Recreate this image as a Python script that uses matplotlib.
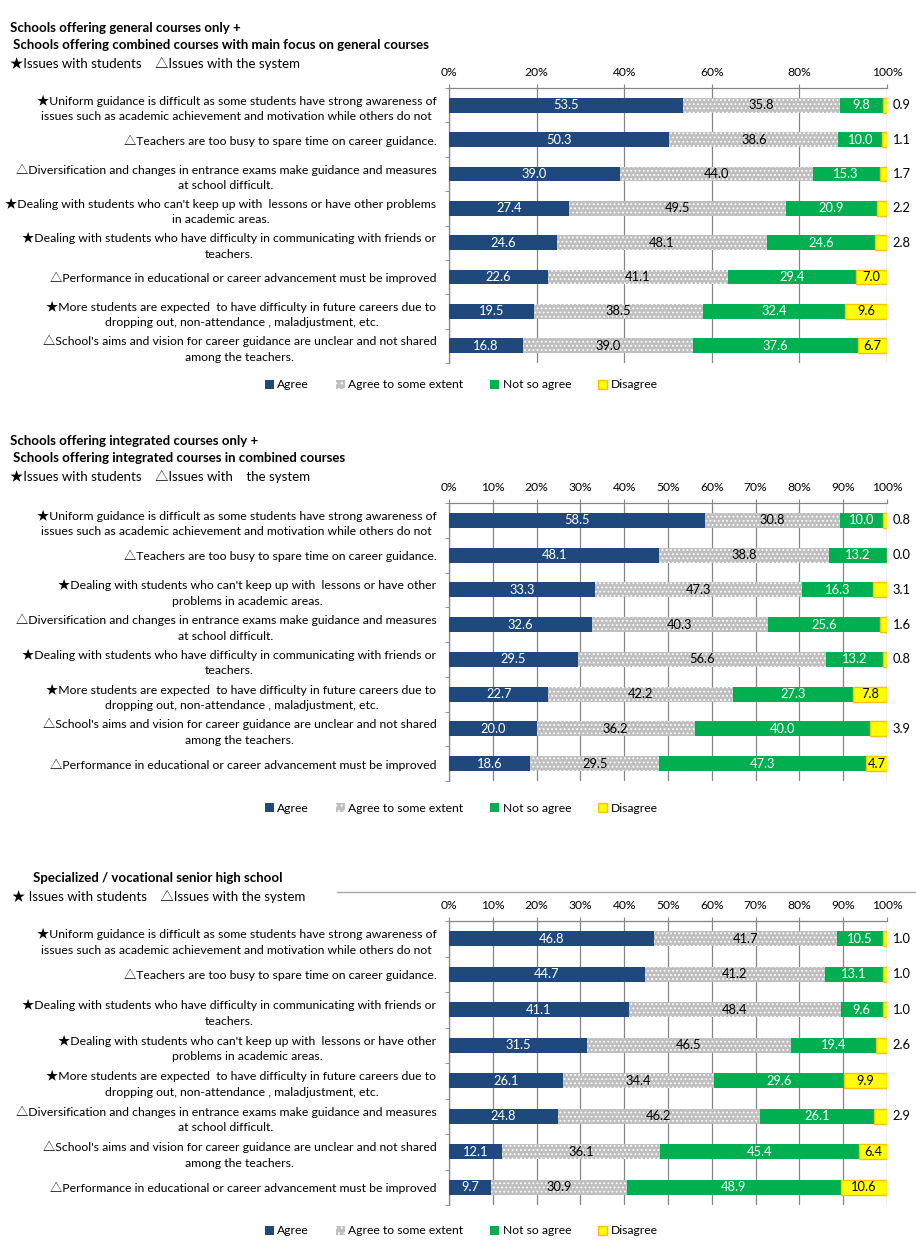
import matplotlib
matplotlib.use("Agg")
import matplotlib.pyplot as plt
import numpy as np
from matplotlib.patches import Patch
from matplotlib.lines import Line2D

plt.rcParams.update({
    "font.family": ["Lato", "Noto Sans CJK JP", "DejaVu Sans"],
    "hatch.linewidth": 0.8,
})

W, H = 916, 1251
NAVY = "#1F497D"
GRAY = "#BFBFBF"
GREEN = "#00B050"
YEL = "#FFFF00"
YEL_EDGE = "#FFC000"
GRID = "#868686"

series = ["Agree", "Agree to some extent", "Not so agree", "Disagree"]

# ---- data ----
UNIFORM = ("★Uniform guidance is difficult as some students have strong awareness of\n"
           "issues such as academic achievement and motivation while others do not")
TEACHERS = "△Teachers are too busy to spare time on career guidance."
DIVERS = ("△Diversification and changes in entrance exams make guidance and measures\n"
          "at school difficult.")
KEEPUP_A = ("★Dealing with students who can't keep up with  lessons or have other problems\n"
            "in academic areas.")
KEEPUP_B = ("★Dealing with students who can't keep up with  lessons or have other\n"
            "problems in academic areas.")
COMM = ("★Dealing with students who have difficulty in communicating with friends or\n"
        "teachers.")
PERF = "△Performance in educational or career advancement must be improved"
MORE = ("★More students are expected  to have difficulty in future careers due to\n"
        "dropping out, non-attendance , maladjustment, etc.")
AIMS = ("△School's aims and vision for career guidance are unclear and not shared\n"
        "among the teachers.")

cats1 = [UNIFORM, TEACHERS, DIVERS, KEEPUP_A, COMM, PERF, MORE, AIMS]
agree1 = [53.5, 50.3, 39.0, 27.4, 24.6, 22.6, 19.5, 16.8]
some1 = [35.8, 38.6, 44.0, 49.5, 48.1, 41.1, 38.5, 39.0]
notso1 = [9.8, 10.0, 15.3, 20.9, 24.6, 29.4, 32.4, 37.6]
dis1 = [0.9, 1.1, 1.7, 2.2, 2.8, 7.0, 9.6, 6.7]

cats2 = [UNIFORM, TEACHERS, KEEPUP_B, DIVERS, COMM, MORE, AIMS, PERF]
agree2 = [58.5, 48.1, 33.3, 32.6, 29.5, 22.7, 20.0, 18.6]
some2 = [30.8, 38.8, 47.3, 40.3, 56.6, 42.2, 36.2, 29.5]
notso2 = [10.0, 13.2, 16.3, 25.6, 13.2, 27.3, 40.0, 47.3]
dis2 = [0.8, 0.0, 3.1, 1.6, 0.8, 7.8, 3.9, 4.7]

cats3 = [UNIFORM, TEACHERS, COMM, KEEPUP_B, MORE, DIVERS, AIMS, PERF]
agree3 = [46.8, 44.7, 41.1, 31.5, 26.1, 24.8, 12.1, 9.7]
some3 = [41.7, 41.2, 48.4, 46.5, 34.4, 46.2, 36.1, 30.9]
notso3 = [10.5, 13.1, 9.6, 19.4, 29.6, 26.1, 45.4, 48.9]
dis3 = [1.0, 1.0, 1.0, 2.6, 9.9, 2.9, 6.4, 10.6]

fig = plt.figure(figsize=(W / 100, H / 100), dpi=100)


def px_axes(x0, y0, x1, y1):
    return fig.add_axes([x0 / W, 1 - y1 / H, (x1 - x0) / W, (y1 - y0) / H])


def panel(top, bottom, cats, vals, step, titles, subtitle, leg_y, rule=None):
    ax = px_axes(449, top, 887, bottom)
    n = len(cats)
    y = np.arange(n)
    data = np.array(vals, dtype=float)
    pct = data / data.sum(axis=0) * 100
    left = np.zeros(n)
    styles = [
        dict(color=NAVY, lw=0),
        dict(facecolor=GRAY, edgecolor="white", hatch="....", lw=0),
        dict(color=GREEN, lw=0),
        dict(facecolor=YEL, edgecolor=YEL_EDGE, lw=1.0),
    ]
    txtcol = ["white", "black", "white", "black"]
    for k in range(4):
        ax.barh(y, pct[k], left=left, height=0.43, zorder=3, **styles[k])
        for i in range(n):
            v = data[k, i]
            if k == 3 and v < 4.5:
                ax.annotate(f"{v:.1f}", (100, i), xytext=(4, 0),
                            textcoords="offset points", ha="left",
                            va="center", fontsize=9.3, color="black",
                            annotation_clip=False)
            else:
                ax.text(left[i] + pct[k, i] / 2, i, f"{v:.1f}", ha="center",
                        va="center", fontsize=9.3, color=txtcol[k], zorder=4)
        left += pct[k]

    ax.set_xlim(0, 100)
    ax.set_ylim(n - 0.5, -0.5)
    ax.set_xticks(np.arange(0, 101, step))
    ax.set_xticklabels([f"{t}%" for t in range(0, 101, step)])
    ax.xaxis.tick_top()
    ax.tick_params(axis="x", length=3, color=GRID, labelsize=8.7, pad=4)
    ax.set_yticks(y)
    ax.set_yticklabels(cats)
    ax.set_yticks(np.arange(-0.5, n, 1), minor=True)
    ax.tick_params(axis="y", which="major", length=0, pad=9, labelsize=8.8)
    ax.tick_params(axis="y", which="minor", length=3, color=GRID)
    for lab in ax.get_yticklabels():
        lab.set_multialignment("center")
        lab.set_linespacing(1.5)
    ax.grid(axis="x", color=GRID, lw=0.9, zorder=0)
    for s in ["right", "bottom"]:
        ax.spines[s].set_visible(False)
    for s in ["top", "left"]:
        ax.spines[s].set_color(GRID)
        ax.spines[s].set_linewidth(0.9)

    for (tx, ty, t) in titles:
        fig.text(tx / W, 1 - ty / H, t, fontsize=9.5, fontweight="bold",
                 ha="left", va="center")
    sx, sy, st = subtitle
    fig.text(sx / W, 1 - sy / H, st, fontsize=9.5, ha="left", va="center")
    if rule is not None:
        fig.add_artist(Line2D([rule[0] / W, 1], [1 - rule[1] / H] * 2,
                              color="#A6A6A6", lw=1.0))

    handles = [
        Patch(facecolor=NAVY, edgecolor=NAVY, lw=0),
        Patch(facecolor=GRAY, edgecolor="white", hatch="...", lw=0),
        Patch(facecolor=GREEN, edgecolor=GREEN, lw=0),
        Patch(facecolor=YEL, edgecolor=YEL_EDGE, lw=1.0),
    ]
    fig.legend(handles, series, loc="center", ncol=4, frameon=False,
               bbox_to_anchor=(461 / W, 1 - leg_y / H), fontsize=8.7,
               handlelength=0.75, handleheight=0.75, handletextpad=0.3,
               columnspacing=2.2)
    return ax


panel(88, 363, cats1, [agree1, some1, notso1, dis1], 20,
      [(10, 28, "Schools offering general courses only +"),
       (13, 45, "Schools offering combined courses with main focus on general courses")],
      (10, 63, "★Issues with students    △Issues with the system"), 385)

panel(503, 781, cats2, [agree2, some2, notso2, dis2], 10,
      [(10, 441, "Schools offering integrated courses only +"),
       (13, 458, "Schools offering integrated courses in combined courses")],
      (10, 476, "★Issues with students    △Issues with    the system"), 808)

panel(921, 1205, cats3, [agree3, some3, notso3, dis3], 10,
      [(33, 878, "Specialized / vocational senior high school")],
      (12, 896, "★ Issues with students    △Issues with the system"), 1231,
      rule=(337, 892))

fig.savefig("out.png", dpi=100, facecolor="white")
